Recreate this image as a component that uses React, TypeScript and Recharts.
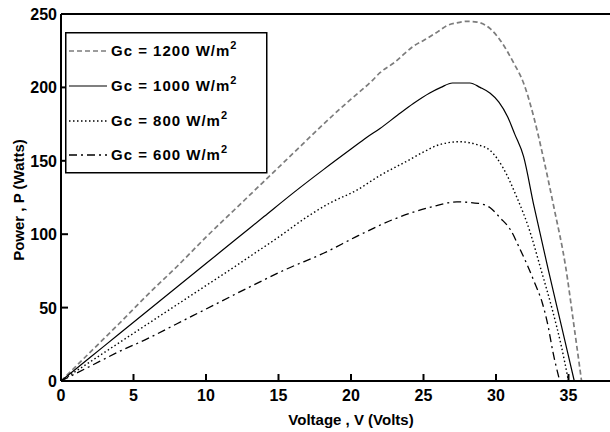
import React from 'react';
import { Legend, Line, LineChart, XAxis, YAxis } from 'recharts';

// Voltage (V) / power (W) pairs, one pair of arrays per irradiance.
const volts1200 = [0, 2, 4, 6, 8, 10, 12, 14, 16, 18, 19.2, 20, 21.5, 22, 23, 24.3, 25, 26, 26.6, 27.3, 28, 28.7, 29.6, 30.3, 31.2, 31.9, 32.6, 33.2, 34, 34.8, 35.4, 35.9];
const power1200 = [0, 19.5, 39, 59, 78, 98, 117, 136, 155, 174, 185, 192, 205, 210, 217, 228, 232, 238, 242, 244, 245, 244.5, 240, 232, 217, 203, 180, 155, 118, 78, 36, 0];

const volts1000 = [0, 2, 4, 6, 8, 10, 12, 14, 16, 18.1, 20, 21.1, 22, 23.2, 24.3, 25.4, 26.2, 27, 28.2, 28.9, 29.6, 30.2, 30.8, 31.3, 31.9, 32.6, 33.6, 34.5, 35.4];
const power1000 = [0, 16, 32, 48, 64, 80, 96, 112, 128, 144, 158, 166, 172, 181, 189, 196, 200, 203, 203, 200, 196, 190, 180, 168, 153, 120, 76, 38, 0];

const volts800 = [0, 2, 4, 6, 8, 10, 12, 13.2, 15, 17, 18.5, 20.4, 22, 23.9, 25, 26.1, 27.5, 28.7, 29.6, 30.5, 31.4, 32.3, 33.1, 33.9, 34.5, 35];
const power800 = [0, 13, 26, 39, 52, 65, 78, 86, 98, 112, 121, 130, 140, 150, 156, 161, 163, 161, 157, 145, 126, 103, 76, 48, 24, 0];

const volts600 = [0, 2, 4, 6, 8, 10, 13, 15.5, 18.1, 20.5, 22.9, 24.3, 25.7, 27.3, 28.8, 29.6, 30.3, 31, 31.6, 32.2, 32.7, 33.2, 33.6, 33.9, 34.4];
const power600 = [0, 10, 20, 29, 39, 49, 64, 76, 87, 99, 110, 115, 119, 122, 121, 118, 111, 103, 91, 78, 66, 53, 37, 21, 0];

const xTicks = [0, 5, 10, 15, 20, 25, 30, 35];
const yTicks = [0, 50, 100, 150, 200, 250];
const legendLabels = ['Gc = 1200 W/m', 'Gc = 1000 W/m', 'Gc = 800 W/m', 'Gc = 600 W/m'];

const FONT = '"Liberation Sans", Arial, sans-serif';

const toPoints = (v: number[], p: number[]) => v.map((x, i) => ({ v: x, p: p[i] }));

const series = [
  { id: 'g1200', data: toPoints(volts1200, power1200), stroke: '#7c7c7c', dash: '5 3', width: 1.7 },
  { id: 'g1000', data: toPoints(volts1000, power1000), stroke: '#000', dash: undefined, width: 1.2 },
  { id: 'g800', data: toPoints(volts800, power800), stroke: '#000', dash: '1.5 2.5', width: 1.4 },
  { id: 'g600', data: toPoints(volts600, power600), stroke: '#000', dash: '8 4 2 4', width: 1.3 },
];

const BottomTick = ({ x, y, payload }: any) => (
  <g>
    <line x1={x} x2={x} y1={y} y2={y - 7} stroke="#000" strokeWidth={2} />
    <text x={x} y={y + 20} textAnchor="middle" fontFamily={FONT} fontSize={16} fontWeight="bold" fill="#000">
      {payload.value}
    </text>
  </g>
);

const TopTick = ({ x, y }: any) => (
  <line x1={x} x2={x} y1={y} y2={y + 7} stroke="#000" strokeWidth={2} />
);

const LeftTick = ({ x, y, payload }: any) => (
  <g>
    <line x1={x} x2={x + 7} y1={y} y2={y} stroke="#000" strokeWidth={2} />
    <text x={x - 4} y={y + 6} textAnchor="end" fontFamily={FONT} fontSize={16} fontWeight="bold" fill="#000">
      {payload.value}
    </text>
  </g>
);

function LegendBox() {
  const rows = [19, 54, 89, 123];
  return (
    <svg width={203} height={142} style={{ display: 'block' }}>
      <rect x={0.75} y={0.75} width={201} height={140} fill="#fff" stroke="#000" strokeWidth={1.5} />
      {series.map((s, i) => (
        <g key={s.id}>
          <line
            x1={4}
            x2={42}
            y1={rows[i]}
            y2={rows[i]}
            stroke={s.stroke}
            strokeWidth={s.width}
            strokeDasharray={s.dash}
          />
          <text x={46} y={rows[i] + 5} fontFamily={FONT} fontSize={15} fontWeight="bold" letterSpacing={1} fill="#000">
            {legendLabels[i]}
            <tspan dy={-7} fontSize={11}>2</tspan>
          </text>
        </g>
      ))}
    </svg>
  );
}

export default function App() {
  return (
    <div style={{ position: 'absolute', left: 0, top: 0, width: 610, height: 432, overflow: 'hidden', background: '#fff' }}>
      <LineChart width={660} height={432} margin={{ top: 0, right: 19, bottom: 0, left: 0 }}>
        <XAxis
          dataKey="v"
          type="number"
          domain={[0, 40]}
          ticks={xTicks}
          height={51}
          tickSize={0}
          tickMargin={0}
          tick={BottomTick}
          axisLine={{ stroke: '#000', strokeWidth: 2 }}
          label={{
            content: () => (
              <text x={351} y={425} textAnchor="middle" fontFamily={FONT} fontSize={15} fontWeight="bold" fill="#000">
                Voltage , V  (Volts)
              </text>
            ),
          }}
        />
        <XAxis
          xAxisId="top"
          orientation="top"
          dataKey="v"
          type="number"
          domain={[0, 40]}
          ticks={xTicks}
          height={14}
          tickSize={0}
          tickMargin={0}
          tick={TopTick}
          axisLine={{ stroke: '#000', strokeWidth: 2 }}
        />
        <YAxis
          type="number"
          domain={[0, 250]}
          ticks={yTicks}
          width={61}
          tickSize={0}
          tickMargin={0}
          tick={LeftTick}
          axisLine={{ stroke: '#000', strokeWidth: 2 }}
          label={{
            content: () => (
              <text
                x={18}
                y={200}
                transform="rotate(-90 18 200)"
                textAnchor="middle"
                dominantBaseline="central"
                fontFamily={FONT}
                fontSize={15}
                fontWeight="bold"
                fill="#000"
              >
                Power , P  (Watts)
              </text>
            ),
          }}
        />
        {series.map((s) => (
          <Line
            key={s.id}
            data={s.data}
            dataKey="p"
            type="monotone"
            stroke={s.stroke}
            strokeWidth={s.width}
            strokeDasharray={s.dash}
            dot={false}
            activeDot={false}
            isAnimationActive={false}
          />
        ))}
        <Legend
          layout="horizontal"
          verticalAlign="middle"
          align="center"
          content={() => <LegendBox />}
          wrapperStyle={{ left: 65, top: 32, width: 203, height: 142 }}
        />
      </LineChart>
    </div>
  );
}
